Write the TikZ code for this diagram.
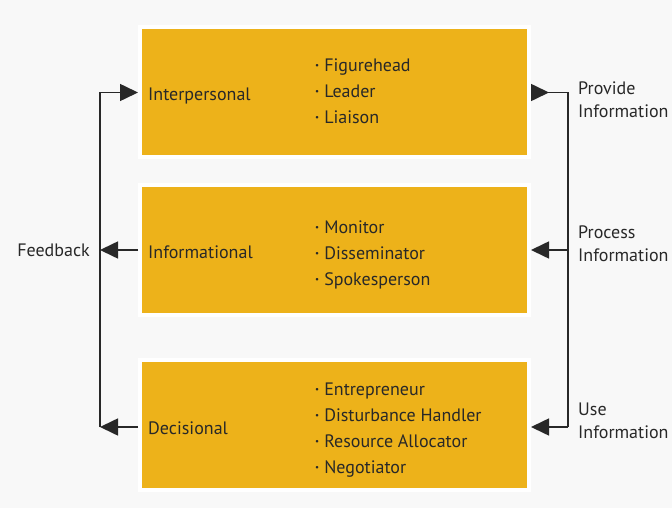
\documentclass[tikz,border=0pt]{standalone}
\usepackage{graphicx}
\usepackage{fontspec}
\setmainfont{PT Sans}
\usetikzlibrary{arrows.meta,shadows}
\definecolor{gold}{RGB}{237,178,26}
\definecolor{bg}{RGB}{248,248,248}
\definecolor{ink}{RGB}{40,40,40}
\newcommand{\bul}{\raisebox{0.3ex}{\scalebox{0.5}{\textbullet}}\hspace{5pt}}
\tikzset{
  rolebox/.style={fill=gold,draw=white,line width=4pt,minimum width=389pt,minimum height=130pt,
    drop shadow={shadow xshift=1pt,shadow yshift=-2pt,opacity=0.3,fill=black!60}},
  rolename/.style={anchor=west,inner sep=0pt,text=ink,font=\fontsize{18}{20}\selectfont},
  rolelist/.style={anchor=west,inner sep=0pt,align=left,text=ink,font=\fontsize{18}{26}\selectfont},
  sidetext/.style={inner sep=0pt,align=left,text=ink,font=\fontsize{18}{23}\selectfont},
  flow/.style={line width=1.6pt,ink},
  flowhead/.style={-{Triangle[length=18pt,width=17pt]}}
}
\begin{document}
\begin{tikzpicture}[x=1pt,y=-1pt]
  \fill[bg] (0,0) rectangle (672,508);
  \useasboundingbox (0,0) rectangle (672,508);
  % the three role boxes
  \node[rolebox] (inter) at (334.5,92.5) {};
  \node[rolebox] (info) at (334.5,250) {};
  \node[rolebox] (deci) at (334.5,425) {};
  \node[rolename] (intername) at (148,96) {Interpersonal};
  \node[rolename] (infoname) at (148,252) {Informational};
  \node[rolename] (deciname) at (148,428) {Decisional};
  \node[rolelist] (interlist) at (315,91) {\bul Figurehead\\ \bul Leader\\ \bul Liaison};
  \node[rolelist] (infolist) at (315,254.5) {\bul Monitor\\ \bul Disseminator\\ \bul Spokesperson};
  \node[rolelist] (decilist) at (315,430) {\bul Entrepreneur\\ \bul Disturbance Handler\\ \bul Resource Allocator\\ \bul Negotiator};
  % feedback loop on the left
  \coordinate (ltop) at (100,92.5);
  \coordinate (lmid) at (100,250);
  \coordinate (lbot) at (100,427);
  \draw[flow,flowhead] (lbot) -- (ltop) -- (inter.west);
  \draw[flow,flowhead] (info.west) -- (lmid);
  \draw[flow,flowhead] (deci.west |- lbot) -- (lbot);
  \node[sidetext,anchor=east] (feedback) at (90,250) {Feedback};
  % information flow on the right
  \coordinate (rtop) at (568,92.5);
  \coordinate (rmid) at (568,250);
  \coordinate (rbot) at (568,427);
  \draw[flow,{Triangle[reversed,length=18pt,width=17pt]}-] (inter.east) -- (rtop) -- (rbot);
  \draw[flow,flowhead] (rmid) -- (info.east);
  \draw[flow,flowhead] (rbot) -- (deci.east |- rbot);
  \node[sidetext,anchor=west] (provide) at (578,99.5) {Provide\\Information};
  \node[sidetext,anchor=west] (process) at (578,244) {Process\\Information};
  \node[sidetext,anchor=west] (use) at (578,421) {Use\\Information};
\end{tikzpicture}
\end{document}
